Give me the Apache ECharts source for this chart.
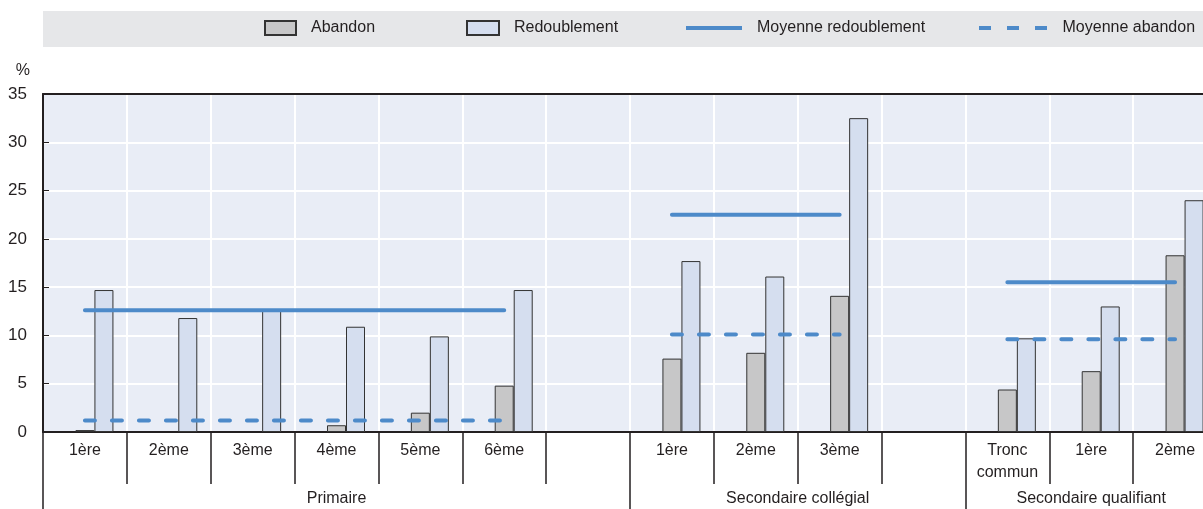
<!DOCTYPE html>
<html>
<head>
<meta charset="utf-8">
<script src="https://cdn.jsdelivr.net/npm/echarts@6/dist/echarts.min.js"></script>
<style>
	html, body { margin: 0; padding: 0; background: #fff; }
	#chart { width: 1203px; height: 509px; }
</style>
</head>
<body>
<div id="chart"></div>
<script>
var categories = ['1ère', '2ème', '3ème', '4ème', '5ème', '6ème', '', '1ère', '2ème', '3ème', '', 'Tronc\ncommun', '1ère', '2ème'];
var abandon = [0.2, null, null, 0.7, 2.0, 4.8, null, 7.6, 8.2, 14.1, null, 4.4, 6.3, 18.3];
var redoublement = [14.7, 11.8, 12.6, 10.9, 9.9, 14.7, null, 17.7, 16.1, 32.5, null, 9.7, 13.0, 24.0];
var moyRedoublement = [12.6, 12.6, 12.6, 12.6, 12.6, 12.6, null, 22.5, 22.5, 22.5, null, 15.5, 15.5, 15.5];
var moyAbandon = [1.2, 1.2, 1.2, 1.2, 1.2, 1.2, null, 10.1, 10.1, 10.1, null, 9.6, 9.6, 9.6];
// niveaux : premier index et fin (exclue) dans categories
var groupNames = ['Primaire', 'Secondaire collégial', 'Secondaire qualifiant'];
var groupStart = [0, 7, 11];
var groupEnd = [7, 11, 14];
var yTicks = [0, 5, 10, 15, 20, 25, 30, 35];

var FONT = "'Liberation Sans', Arial, sans-serif";
var TXT = '#231f20';
var BLUE = '#4d8ac9';

var groupCenters = groupStart.map(function(s, i) { return (s + groupEnd[i]) / 2; });

function legendBox(name, left, width, height, icon) {
	return {
		data: [{ name: name, icon: icon }],
		left: left,
		top: 20,
		itemWidth: width,
		itemHeight: height,
		padding: 0,
		textStyle: {
			fontFamily: FONT,
			fontSize: 16,
			color: TXT,
			padding: [0, 0, 0, 10]
		}
	};
}

var chart = echarts.init(document.getElementById('chart'));
chart.setOption({
	animation: false,
	backgroundColor: '#fff',
	graphic: [{
		type: 'rect',
		z: -10,
		shape: { x: 43, y: 11, width: 1160, height: 36 },
		style: { fill: '#e6e7e9' }
	}],
	legend: [
		legendBox('Abandon', 264, 31, 14, 'rect'),
		legendBox('Redoublement', 466, 32, 14, 'rect'),
		legendBox('Moyenne redoublement', 686, 56, 4, 'rect'),
		legendBox('Moyenne abandon', 979, 69, 4, 'path://M0,0h12v4h-12z M28,0h12v4h-12z M56,0h12v4h-12z')
	],
	grid: {
		left: 43,
		top: 94,
		bottom: 77,
		width: 1174,
		outerBoundsMode: 'none',
		show: true,
		backgroundColor: '#e9edf6',
		borderWidth: 0
	},
	xAxis: [{
		type: 'category',
		data: categories,
		position: 'bottom',
		axisLine: { lineStyle: { color: TXT, width: 2 } },
		axisTick: { show: true, interval: 0, length: 52, lineStyle: { color: TXT, width: 1.5 } },
		axisLabel: {
			interval: 0,
			margin: 8,
			fontFamily: FONT,
			fontSize: 16,
			lineHeight: 22,
			color: TXT
		},
		splitLine: { show: true, interval: 0, showMinLine: false, lineStyle: { color: '#fff', width: 2 } }
	}, {
		type: 'value',
		min: 0,
		max: categories.length,
		position: 'bottom',
		axisLine: { show: false },
		axisTick: {
			show: true,
			customValues: groupStart,
			length: 78,
			lineStyle: { color: TXT, width: 1.5 }
		},
		axisLabel: {
			customValues: groupCenters,
			margin: 59,
			fontFamily: FONT,
			fontSize: 16,
			color: TXT,
			formatter: function(v) {
				var i = groupCenters.indexOf(v);
				return i >= 0 ? groupNames[i] : '';
			}
		},
		splitLine: { show: false }
	}, {
		type: 'category',
		data: categories,
		position: 'top',
		axisLine: { lineStyle: { color: TXT, width: 2 } },
		axisTick: { show: false },
		axisLabel: { show: false },
		splitLine: { show: false }
	}],
	yAxis: {
		type: 'value',
		min: 0,
		max: 35,
		interval: 5,
		name: '%',
		nameLocation: 'end',
		nameGap: 15,
		nameTextStyle: {
			fontFamily: FONT,
			fontSize: 16,
			color: TXT,
			align: 'right',
			padding: [0, 13, 0, 0]
		},
		axisLine: { show: true, lineStyle: { color: TXT, width: 2 } },
		axisTick: { show: true, inside: true, length: 6, lineStyle: { color: TXT, width: 1 } },
		axisLabel: {
			margin: 16,
			fontFamily: FONT,
			fontSize: 17,
			color: TXT,
			customValues: yTicks
		},
		splitLine: { show: true, showMinLine: false, showMaxLine: false, lineStyle: { color: '#fff', width: 2 } }
	},
	series: [{
		// emplacement vide à gauche de chaque groupe
		name: '',
		type: 'bar',
		barWidth: 19,
		barGap: '0%',
		data: categories.map(function() { return null; })
	}, {
		name: 'Abandon',
		type: 'bar',
		barWidth: 19,
		barGap: '0%',
		data: abandon,
		itemStyle: { color: '#c7c7c8', borderColor: '#333', borderWidth: 1 }
	}, {
		name: 'Redoublement',
		type: 'bar',
		barWidth: 19,
		barGap: '0%',
		data: redoublement,
		itemStyle: { color: '#d5deef', borderColor: '#333', borderWidth: 1 }
	}, {
		name: 'Moyenne redoublement',
		type: 'line',
		data: moyRedoublement,
		symbol: 'none',
		connectNulls: false,
		z: 5,
		lineStyle: { color: BLUE, width: 4, cap: 'round' },
		itemStyle: { color: BLUE }
	}, {
		name: 'Moyenne abandon',
		type: 'line',
		data: moyAbandon,
		symbol: 'none',
		connectNulls: false,
		z: 5,
		lineStyle: { color: BLUE, width: 4, type: [10, 17], cap: 'round' },
		itemStyle: { color: BLUE }
	}]
});
</script>
</body>
</html>
